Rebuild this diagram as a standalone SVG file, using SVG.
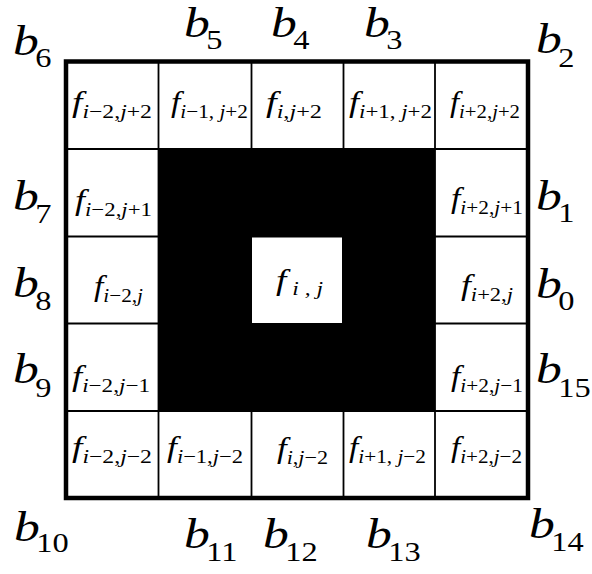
<svg xmlns="http://www.w3.org/2000/svg" width="592" height="574" viewBox="0 0 592 574">
<style>
.f{font-family:"Liberation Serif","Times New Roman",serif;font-style:italic;font-size:30px;fill:#000}
.s{font-size:19px}
.n{font-style:normal}
.b{font-family:"Liberation Serif","Times New Roman",serif;font-style:italic;font-size:43px;fill:#000}
.bs{font-style:normal;font-size:27px}
.thin{stroke:#000;stroke-width:1.8;fill:none}
</style>
<rect x="0" y="0" width="592" height="574" fill="#fff"/>
<g id="grid">
<g id="lines" class="thin">
<line x1="158.5" y1="61.5" x2="158.5" y2="498"/>
<line x1="251.5" y1="61.5" x2="251.5" y2="498"/>
<line x1="343.5" y1="61.5" x2="343.5" y2="498"/>
<line x1="435" y1="61.5" x2="435" y2="498"/>
<line x1="66" y1="149" x2="528" y2="149"/>
<line x1="66" y1="236.5" x2="528" y2="236.5"/>
<line x1="66" y1="323.5" x2="528" y2="323.5"/>
<line x1="66" y1="411" x2="528" y2="411"/>
</g>
<rect id="mask" x="158.5" y="149" width="276.5" height="262" fill="#000"/>
<rect id="center" x="252" y="237.5" width="90" height="85.5" fill="#fff"/>
<rect id="border" x="66" y="61.5" width="462" height="436.5" fill="none" stroke="#000" stroke-width="4.5"/>
</g>
<g id="cells">
<g id="c-2p2"><text class="f" x="72" y="112" textLength="80" lengthAdjust="spacingAndGlyphs">f<tspan class="s" dy="6">i<tspan class="n">−2,</tspan>j<tspan class="n">+2</tspan></tspan></text></g>
<g id="c-1p2"><text class="f" x="171" y="112" textLength="77" lengthAdjust="spacingAndGlyphs">f<tspan class="s" dy="6">i<tspan class="n">−1, </tspan>j<tspan class="n">+2</tspan></tspan></text></g>
<g id="c0p2"><text class="f" x="266" y="112" textLength="56" lengthAdjust="spacingAndGlyphs">f<tspan class="s" dy="6">i<tspan class="n">,</tspan>j<tspan class="n">+2</tspan></tspan></text></g>
<g id="c1p2"><text class="f" x="349" y="112" textLength="83" lengthAdjust="spacingAndGlyphs">f<tspan class="s" dy="6">i<tspan class="n">+1, </tspan>j<tspan class="n">+2</tspan></tspan></text></g>
<g id="c2p2"><text class="f" x="450" y="112" textLength="70" lengthAdjust="spacingAndGlyphs">f<tspan class="s" dy="6">i<tspan class="n">+2,</tspan>j<tspan class="n">+2</tspan></tspan></text></g>

<g id="c-2p1"><text class="f" x="75" y="210" textLength="77" lengthAdjust="spacingAndGlyphs">f<tspan class="s" dy="6">i<tspan class="n">−2,</tspan>j<tspan class="n">+1</tspan></tspan></text></g>
<g id="c2p1"><text class="f" x="451" y="208" textLength="72" lengthAdjust="spacingAndGlyphs">f<tspan class="s" dy="6">i<tspan class="n">+2,</tspan>j<tspan class="n">+1</tspan></tspan></text></g>

<g id="c-20"><text class="f" x="94" y="296" textLength="49" lengthAdjust="spacingAndGlyphs">f<tspan class="s" dy="6">i<tspan class="n">−2,</tspan>j</tspan></text></g>
<g id="c00"><text class="f" x="276" y="290" textLength="47" lengthAdjust="spacingAndGlyphs">f<tspan class="s" dy="5"> i , j</tspan></text></g>
<g id="c20"><text class="f" x="461" y="295" textLength="52" lengthAdjust="spacingAndGlyphs">f<tspan class="s" dy="6">i<tspan class="n">+2,</tspan>j</tspan></text></g>

<g id="c-2m1"><text class="f" x="72" y="386" textLength="78" lengthAdjust="spacingAndGlyphs">f<tspan class="s" dy="6">i<tspan class="n">−2,</tspan>j<tspan class="n">−1</tspan></tspan></text></g>
<g id="c2m1"><text class="f" x="451" y="386" textLength="72" lengthAdjust="spacingAndGlyphs">f<tspan class="s" dy="6">i<tspan class="n">+2,</tspan>j<tspan class="n">−1</tspan></tspan></text></g>

<g id="c-2m2"><text class="f" x="72" y="457" textLength="80" lengthAdjust="spacingAndGlyphs">f<tspan class="s" dy="6">i<tspan class="n">−2,</tspan>j<tspan class="n">−2</tspan></tspan></text></g>
<g id="c-1m2"><text class="f" x="167" y="457" textLength="76" lengthAdjust="spacingAndGlyphs">f<tspan class="s" dy="6">i<tspan class="n">−1,</tspan>j<tspan class="n">−2</tspan></tspan></text></g>
<g id="c0m2"><text class="f" x="277" y="458" textLength="51" lengthAdjust="spacingAndGlyphs">f<tspan class="s" dy="6">i<tspan class="n">,</tspan>j<tspan class="n">−2</tspan></tspan></text></g>
<g id="c1m2"><text class="f" x="349" y="457" textLength="77" lengthAdjust="spacingAndGlyphs">f<tspan class="s" dy="6">i<tspan class="n">+1, </tspan>j<tspan class="n">−2</tspan></tspan></text></g>
<g id="c2m2"><text class="f" x="451" y="457" textLength="71" lengthAdjust="spacingAndGlyphs">f<tspan class="s" dy="6">i<tspan class="n">+2,</tspan>j<tspan class="n">−2</tspan></tspan></text></g>
</g>
<g id="labels">
<g id="b6"><text class="b" transform="translate(13,55) scale(1.2,1)">b<tspan class="bs" dx="-3" dy="12">6</tspan></text></g>
<g id="b5"><text class="b" transform="translate(184,37) scale(1.2,1)">b<tspan class="bs" dx="-3" dy="12">5</tspan></text></g>
<g id="b4"><text class="b" transform="translate(271,37) scale(1.2,1)">b<tspan class="bs" dx="-3" dy="12">4</tspan></text></g>
<g id="b3"><text class="b" transform="translate(364,37) scale(1.2,1)">b<tspan class="bs" dx="-3" dy="12">3</tspan></text></g>
<g id="b2"><text class="b" transform="translate(536,53) scale(1.2,1)">b<tspan class="bs" dx="-3" dy="14">2</tspan></text></g>
<g id="b7"><text class="b" transform="translate(13,210) scale(1.2,1)">b<tspan class="bs" dx="-3" dy="13">7</tspan></text></g>
<g id="b8"><text class="b" transform="translate(13,297) scale(1.2,1)">b<tspan class="bs" dx="-3" dy="13">8</tspan></text></g>
<g id="b9"><text class="b" transform="translate(13,383) scale(1.2,1)">b<tspan class="bs" dx="-3" dy="14">9</tspan></text></g>
<g id="b10"><text class="b" transform="translate(14,541) scale(1.2,1)">b<tspan class="bs" dx="-3" dy="11">10</tspan></text></g>
<g id="b11"><text class="b" transform="translate(184,548) scale(1.2,1)">b<tspan class="bs" dx="-3" dy="13">11</tspan></text></g>
<g id="b12"><text class="b" transform="translate(263,548) scale(1.2,1)">b<tspan class="bs" dx="-3" dy="13">12</tspan></text></g>
<g id="b13"><text class="b" transform="translate(366,548) scale(1.2,1)">b<tspan class="bs" dx="-3" dy="13">13</tspan></text></g>
<g id="b14"><text class="b" transform="translate(529,538) scale(1.2,1)">b<tspan class="bs" dx="-3" dy="13">14</tspan></text></g>
<g id="b1"><text class="b" transform="translate(536,210) scale(1.2,1)">b<tspan class="bs" dx="-3" dy="12">1</tspan></text></g>
<g id="b0"><text class="b" transform="translate(536,298) scale(1.2,1)">b<tspan class="bs" dx="-3" dy="12">0</tspan></text></g>
<g id="b15"><text class="b" transform="translate(536,383) scale(1.2,1)">b<tspan class="bs" dx="-3" dy="14">15</tspan></text></g>
</g>
</svg>
